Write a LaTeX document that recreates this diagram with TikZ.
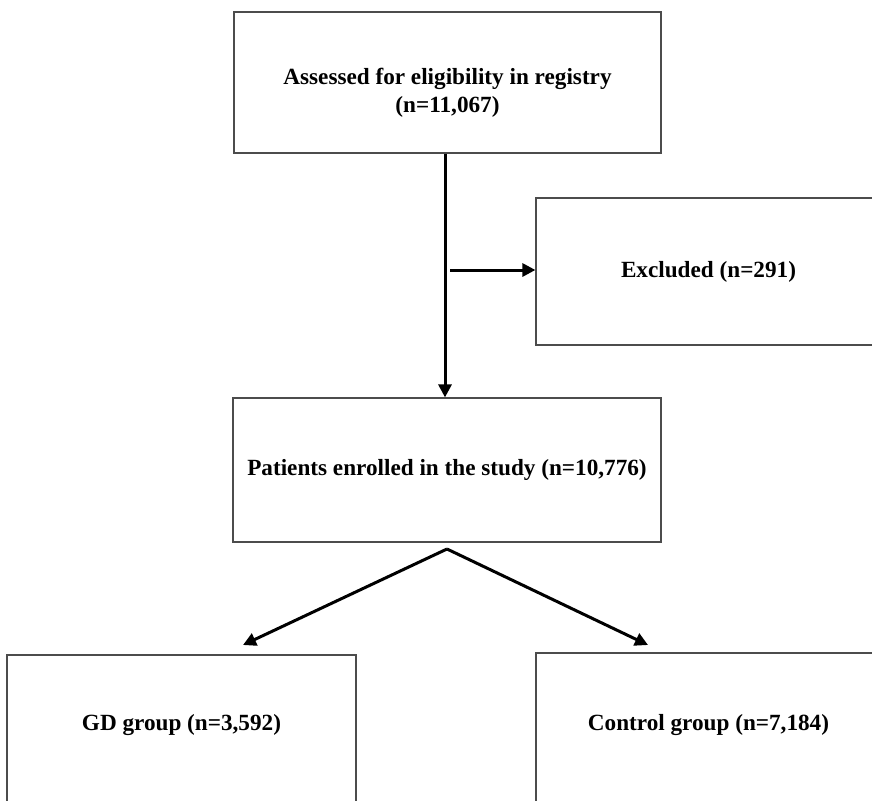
\documentclass[tikz,border=0pt]{standalone}
\usepackage{fontspec}
\setmainfont{Liberation Serif}
\usetikzlibrary{arrows.meta}
\begin{document}
\begin{tikzpicture}[x=1pt,y=-1pt,
  box/.style={draw=black!70,line width=1.2pt,inner sep=0pt,align=center,
    font=\fontsize{23.2}{28}\selectfont\bfseries},
  arr/.style={line width=3pt,-{Triangle[length=13pt,width=13pt]}}]
\path[use as bounding box,clip] (0,0) rectangle (872,800);
\fill[white] (0,0) rectangle (872,800);
\node[box,minimum width=427pt,minimum height=141pt] (top) at (447.5,82.5)
  {\rule{0pt}{36pt}Assessed for eligibility in registry\\(n=11,067)};
\node[box,minimum width=345pt,minimum height=147pt] (exc) at (708.5,271.5)
  {Excluded (n=291)};
\node[box,minimum width=428pt,minimum height=144pt] (pat) at (447,470)
  {Patients enrolled in the study (n=10,776)};
\node[box,minimum width=349pt,text height=75pt,text depth=120pt,anchor=base] (gd) at (181.5,730)
  {GD group (n=3,592)};
\node[box,minimum width=345pt,text height=77pt,text depth=120pt,anchor=base] (ctl) at (708.5,730)
  {Control group (n=7,184)};
\coordinate (branch) at (450,270);
\coordinate (apex) at (447,549);
\coordinate (gdtip) at (243,645);
\coordinate (ctltip) at (648,645);
\draw[arr] ([xshift=-2.5pt]top.south) -- ([xshift=-2.5pt]top.south |- pat.north);
\draw[arr] (branch) -- (exc.west |- branch);
\draw[arr] (apex) -- (gdtip);
\draw[arr] (apex) -- (ctltip);
\end{tikzpicture}
\end{document}
